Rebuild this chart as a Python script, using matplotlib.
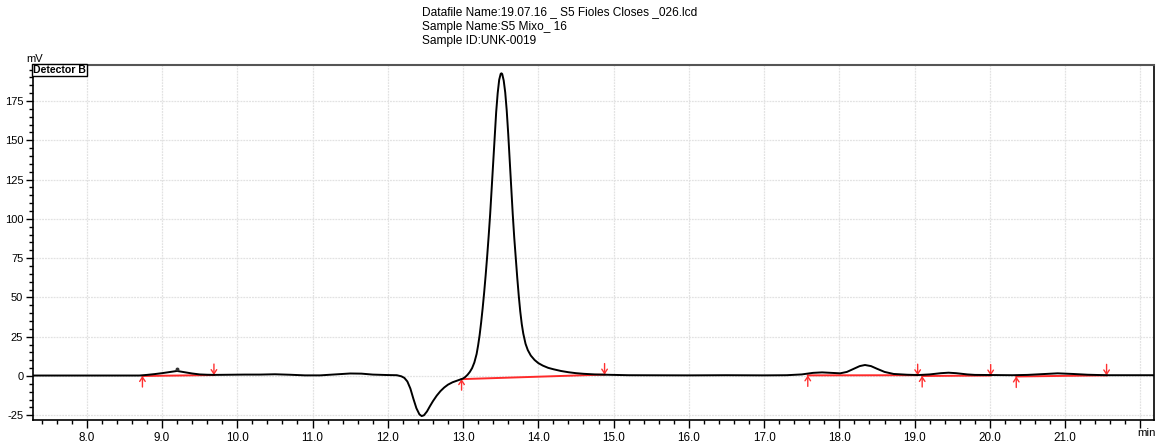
import matplotlib
matplotlib.use("Agg")
import matplotlib.pyplot as plt
from matplotlib.ticker import MultipleLocator, FuncFormatter

plt.rcParams['font.family'] = ['Liberation Sans', 'DejaVu Sans']

# Detector B trace: retention time (min) and signal (mV)
time_min = [
    7.28, 8.00, 8.70, 8.80, 8.90, 9.00, 9.10, 9.20, 9.30, 9.40, 9.50, 9.60, 9.70,
    9.90, 10.10, 10.30, 10.50, 10.70, 10.90, 11.10, 11.30, 11.50, 11.65, 11.80,
    12.00, 12.12, 12.18, 12.22, 12.26, 12.30, 12.34, 12.38, 12.42, 12.45, 12.48,
    12.52, 12.56, 12.60, 12.65, 12.70, 12.75, 12.80, 12.86, 12.93, 13.00, 13.03,
    13.06, 13.09, 13.12, 13.15, 13.18, 13.20, 13.22, 13.24, 13.26, 13.28, 13.30,
    13.32, 13.34, 13.36, 13.38, 13.40, 13.42, 13.44, 13.46, 13.48, 13.50, 13.51,
    13.52, 13.54, 13.56, 13.58, 13.60, 13.62, 13.64, 13.66, 13.68, 13.70, 13.72,
    13.74, 13.76, 13.78, 13.80, 13.83, 13.86, 13.90, 13.95, 14.00, 14.06, 14.13,
    14.20, 14.30, 14.40, 14.50, 14.60, 14.75, 14.90, 15.20, 16.00, 16.50, 17.00,
    17.30, 17.50, 17.65, 17.77, 17.90, 18.01, 18.10, 18.20, 18.27, 18.34, 18.42,
    18.50, 18.60, 18.72, 18.90, 19.05, 19.20, 19.35, 19.45, 19.55, 19.70, 19.80,
    20.00, 20.30, 20.50, 20.70, 20.90, 21.10, 21.30, 21.55, 22.20,
]
signal_mv = [
    0.3, 0.3, 0.3, 0.7, 1.2, 1.8, 2.5, 3.2, 2.4, 1.6, 1.0, 0.8, 0.7,
    0.8, 0.9, 0.9, 1.1, 0.8, 0.4, 0.4, 1.0, 1.6, 1.5, 0.9,
    0.6, 0.5, -0.2, -1.2, -3.5, -8.0, -14.5, -20.5, -24.4, -25.5, -25.0,
    -22.6, -19.2, -16.0, -12.5, -9.6, -7.3, -5.5, -4.0, -2.8, -1.6, -0.6,
    0.8, 2.6, 5.0, 8.6, 14.0, 19.5, 26.0, 34.0, 43.0, 53.0, 64.0,
    76.0, 89.0, 103.0, 119.0, 135.0, 152.0, 168.0, 180.0, 188.5, 192.3, 192.6,
    192.2, 188.0, 180.5, 169.0, 154.0, 137.0, 120.0, 103.0, 88.0, 75.0, 62.5,
    51.0, 41.0, 33.0, 27.0, 20.5, 16.5, 13.0, 10.2, 8.2, 6.6, 5.2,
    4.3, 3.2, 2.4, 1.8, 1.4, 1.0, 0.8, 0.5, 0.4, 0.5, 0.4,
    0.5, 1.0, 2.0, 2.3, 2.0, 1.7, 2.6, 4.8, 6.3, 7.0, 6.3,
    4.6, 2.6, 1.3, 0.8, 0.6, 1.0, 1.8, 2.1, 1.8, 1.0, 0.7,
    0.6, 0.5, 0.7, 1.2, 1.7, 1.3, 0.8, 0.5, 0.5,
]

# Integration baselines (start / end of each peak window)
base_t0 = [8.74, 12.98, 17.58, 19.10, 20.35]
base_y0 = [0.0, -2.0, 0.4, 0.0, -0.3]
base_t1 = [9.69, 14.88, 19.04, 20.01, 21.55]
base_y1 = [0.6, 0.9, 0.5, 0.3, 0.4]

# Apex mark of the small peak near 9.2 min
apex_t = [9.20]
apex_y = [4.2]

header_lines = [
    "Datafile Name:19.07.16 _ S5 Fioles Closes _026.lcd",
    "Sample Name:S5 Mixo_ 16",
    "Sample ID:UNK-0019",
]

W, H = 1161, 441
fig = plt.figure(figsize=(W / 100, H / 100), dpi=100)
ax = fig.add_axes([33 / W, 1 - 420 / H, (1154 - 33) / W, (420 - 65) / H])

ax.set_xlim(7.286, 22.18)
ax.set_ylim(-28.0, 197.9)

ax.xaxis.set_major_locator(MultipleLocator(1.0))
ax.xaxis.set_minor_locator(MultipleLocator(0.2))
ax.yaxis.set_major_locator(MultipleLocator(25))
ax.yaxis.set_minor_locator(MultipleLocator(5))


def fmt_x(v, pos):
    if v > 21.5:
        return ""
    return f"{v:.1f}".replace(".", ",")


ax.xaxis.set_major_formatter(FuncFormatter(fmt_x))
ax.yaxis.set_major_formatter(FuncFormatter(lambda v, p: f"{v:.0f}"))

ax.tick_params(axis='both', which='major', direction='out', length=5, width=1,
               labelsize=8.0, colors='black', pad=2)
ax.tick_params(axis='both', which='minor', direction='out', length=3, width=1)
ax.tick_params(axis='x', which='major', length=6, labelsize=8.4)

ax.grid(True, which='major', color='#e2e2e2', linestyle=(0, (1.5, 0.8)), linewidth=0.9)
ax.set_axisbelow(True)

for side in ['left', 'bottom', 'right']:
    ax.spines[side].set_linewidth(1.2)
    ax.spines[side].set_color('black')
ax.spines['top'].set_linewidth(1.5)
ax.spines['top'].set_color('#555555')

# Baselines with start/end arrows
arrow_kw = dict(arrowstyle='->,head_length=0.3,head_width=0.2',
                color='#ff3030', lw=1.0, shrinkA=0, shrinkB=0)
for t0, y0, t1, y1 in zip(base_t0, base_y0, base_t1, base_y1):
    ax.plot([t0, t1], [y0, y1], color='#ff2a2a', lw=1.4, zorder=2)
    ax.annotate('', xy=(t0, y0), xytext=(0, -11), textcoords='offset pixels',
                arrowprops=arrow_kw, zorder=3)
    ax.annotate('', xy=(t1, y1), xytext=(0, 11), textcoords='offset pixels',
                arrowprops=arrow_kw, zorder=3)

ax.plot(time_min, signal_mv, color='black', lw=1.4, zorder=4,
        solid_joinstyle='round')
ax.plot(apex_t, apex_y, 'o', color='#333333', ms=1.8, zorder=5)

ax.text(0.0, 1.0, "Detector B", transform=ax.transAxes, ha='left', va='top',
        fontsize=7.6, fontweight='bold',
        bbox=dict(boxstyle='square,pad=0.12', fc='white', ec='black', lw=1.0),
        zorder=6)

fig.text(35 / W, 1 - 59.5 / H, "mV", ha='center', va='center', fontsize=8.0)
fig.text(1146 / W, 1 - 433 / H, "min", ha='center', va='center', fontsize=8.2)

for i, line in enumerate(header_lines):
    fig.text(422 / W, 1 - (12.5 + 14.3 * i) / H, line, ha='left', va='center',
             fontsize=8.6)

fig.savefig("out.png", dpi=100, facecolor='white')
